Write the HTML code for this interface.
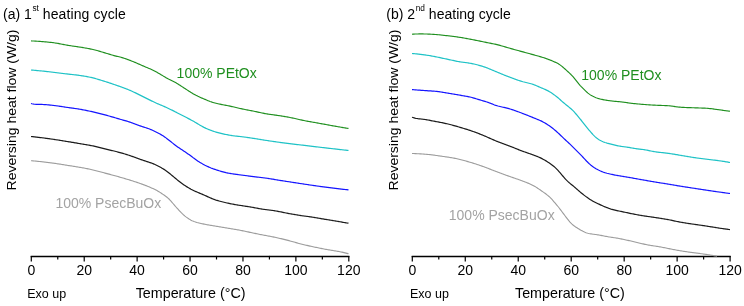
<!DOCTYPE html>
<html><head><meta charset="utf-8"><style>
html,body{margin:0;padding:0;background:#fff;}
body{width:744px;height:306px;overflow:hidden;}
svg{display:block;will-change:transform;}
text{font-family:"Liberation Sans",sans-serif;}
.t{font-size:14px;fill:#000;}
</style></head><body>
<svg width="744" height="306" viewBox="0 0 744 306">
<rect width="744" height="306" fill="#fff"/>
<text x="3" y="18.6" class="t">(a) 1<tspan font-size="8.3" dx="0.6" dy="-7.8">st</tspan><tspan dy="7.8" letter-spacing="0.1"> heating cycle</tspan></text>
<text x="386.3" y="18.6" class="t">(b) 2<tspan font-size="8.3" dx="0.6" dy="-7.8">nd</tspan><tspan dy="7.8" letter-spacing="0.02"> heating cycle</tspan></text>
<text transform="translate(15.8,110) rotate(-90) scale(1,0.93)" text-anchor="middle" class="t">Reversing heat flow (W/g)</text>
<text transform="translate(397.7,110) rotate(-90) scale(1,0.93)" text-anchor="middle" class="t">Reversing heat flow (W/g)</text>
<text x="27.2" y="298.2" class="t" style="font-size:12.5px">Exo up</text>
<text x="410" y="298.4" class="t" style="font-size:12.5px">Exo up</text>
<text x="190.6" y="298.2" text-anchor="middle" class="t" style="font-size:14.3px">Temperature (°C)</text>
<text x="569.9" y="298.4" text-anchor="middle" class="t" style="font-size:14.3px">Temperature (°C)</text>
<text x="176.6" y="78.2" class="t" style="fill:#1f8f1f">100% PEtOx</text>
<text x="581.3" y="79.6" class="t" style="fill:#1f8f1f">100% PEtOx</text>
<text x="55.4" y="207.9" class="t" style="fill:#a3a3a3">100% PsecBuOx</text>
<text x="448.8" y="219.6" class="t" style="fill:#a3a3a3">100% PsecBuOx</text>
<path d="M30.7,256.5H349.4" stroke="#000" stroke-width="1.3" fill="none"/>
<path d="M31.30,255.9V261.5" stroke="#000" stroke-width="1.2"/>
<path d="M57.76,255.9V259.5" stroke="#000" stroke-width="1.2"/>
<path d="M84.22,255.9V261.5" stroke="#000" stroke-width="1.2"/>
<path d="M110.67,255.9V259.5" stroke="#000" stroke-width="1.2"/>
<path d="M137.13,255.9V261.5" stroke="#000" stroke-width="1.2"/>
<path d="M163.59,255.9V259.5" stroke="#000" stroke-width="1.2"/>
<path d="M190.05,255.9V261.5" stroke="#000" stroke-width="1.2"/>
<path d="M216.51,255.9V259.5" stroke="#000" stroke-width="1.2"/>
<path d="M242.97,255.9V261.5" stroke="#000" stroke-width="1.2"/>
<path d="M269.43,255.9V259.5" stroke="#000" stroke-width="1.2"/>
<path d="M295.88,255.9V261.5" stroke="#000" stroke-width="1.2"/>
<path d="M322.34,255.9V259.5" stroke="#000" stroke-width="1.2"/>
<path d="M348.80,255.9V261.5" stroke="#000" stroke-width="1.2"/>
<text x="31.30" y="275.3" text-anchor="middle" class="t">0</text>
<text x="84.22" y="275.3" text-anchor="middle" class="t">20</text>
<text x="137.13" y="275.3" text-anchor="middle" class="t">40</text>
<text x="190.05" y="275.3" text-anchor="middle" class="t">60</text>
<text x="242.97" y="275.3" text-anchor="middle" class="t">80</text>
<text x="295.88" y="275.3" text-anchor="middle" class="t">100</text>
<text x="348.80" y="275.3" text-anchor="middle" class="t">120</text>
<path d="M411.7,256.5H730.7" stroke="#000" stroke-width="1.3" fill="none"/>
<path d="M412.30,255.9V261.5" stroke="#000" stroke-width="1.2"/>
<path d="M438.78,255.9V259.5" stroke="#000" stroke-width="1.2"/>
<path d="M465.27,255.9V261.5" stroke="#000" stroke-width="1.2"/>
<path d="M491.75,255.9V259.5" stroke="#000" stroke-width="1.2"/>
<path d="M518.23,255.9V261.5" stroke="#000" stroke-width="1.2"/>
<path d="M544.72,255.9V259.5" stroke="#000" stroke-width="1.2"/>
<path d="M571.20,255.9V261.5" stroke="#000" stroke-width="1.2"/>
<path d="M597.68,255.9V259.5" stroke="#000" stroke-width="1.2"/>
<path d="M624.17,255.9V261.5" stroke="#000" stroke-width="1.2"/>
<path d="M650.65,255.9V259.5" stroke="#000" stroke-width="1.2"/>
<path d="M677.13,255.9V261.5" stroke="#000" stroke-width="1.2"/>
<path d="M703.62,255.9V259.5" stroke="#000" stroke-width="1.2"/>
<path d="M730.10,255.9V261.5" stroke="#000" stroke-width="1.2"/>
<text x="412.30" y="275.3" text-anchor="middle" class="t">0</text>
<text x="465.27" y="275.3" text-anchor="middle" class="t">20</text>
<text x="518.23" y="275.3" text-anchor="middle" class="t">40</text>
<text x="571.20" y="275.3" text-anchor="middle" class="t">60</text>
<text x="624.17" y="275.3" text-anchor="middle" class="t">80</text>
<text x="677.13" y="275.3" text-anchor="middle" class="t">100</text>
<text x="730.10" y="275.3" text-anchor="middle" class="t">120</text>
<path d="M31.0,40.90 L 32.0,40.95 33.0,41.00 34.0,41.05 35.0,41.10 36.0,41.16 37.0,41.22 38.0,41.29 39.0,41.35 40.0,41.42 41.0,41.50 42.0,41.57 43.0,41.65 44.0,41.74 45.0,41.82 46.0,41.91 47.0,42.01 48.0,42.11 49.0,42.21 50.0,42.32 51.0,42.43 52.0,42.55 53.0,42.67 54.0,42.80 55.0,42.95 56.0,43.10 57.0,43.26 58.0,43.44 59.0,43.62 60.0,43.82 61.0,44.01 62.0,44.21 63.0,44.41 64.0,44.60 65.0,44.79 66.0,44.98 67.0,45.15 68.0,45.32 69.0,45.48 70.0,45.64 71.0,45.80 72.0,45.95 73.0,46.09 74.0,46.24 75.0,46.39 76.0,46.53 77.0,46.68 78.0,46.82 79.0,46.97 80.0,47.12 81.0,47.28 82.0,47.44 83.0,47.60 84.0,47.77 85.0,47.95 86.0,48.12 87.0,48.31 88.0,48.49 89.0,48.68 90.0,48.88 91.0,49.09 92.0,49.30 93.0,49.53 94.0,49.76 95.0,50.01 96.0,50.26 97.0,50.53 98.0,50.81 99.0,51.10 100.0,51.39 101.0,51.68 102.0,51.98 103.0,52.28 104.0,52.58 105.0,52.88 106.0,53.19 107.0,53.49 108.0,53.80 109.0,54.11 110.0,54.42 111.0,54.73 112.0,55.02 113.0,55.31 114.0,55.58 115.0,55.84 116.0,56.08 117.0,56.32 118.0,56.56 119.0,56.80 120.0,57.05 121.0,57.31 122.0,57.59 123.0,57.90 124.0,58.22 125.0,58.56 126.0,58.91 127.0,59.28 128.0,59.65 129.0,60.02 130.0,60.41 131.0,60.79 132.0,61.19 133.0,61.59 134.0,61.99 135.0,62.40 136.0,62.82 137.0,63.24 138.0,63.67 139.0,64.10 140.0,64.53 141.0,64.97 142.0,65.41 143.0,65.86 144.0,66.30 145.0,66.74 146.0,67.17 147.0,67.59 148.0,68.00 149.0,68.41 150.0,68.83 151.0,69.26 152.0,69.71 153.0,70.19 154.0,70.69 155.0,71.22 156.0,71.77 157.0,72.33 158.0,72.91 159.0,73.49 160.0,74.08 161.0,74.67 162.0,75.27 163.0,75.88 164.0,76.49 165.0,77.10 166.0,77.69 167.0,78.27 168.0,78.83 169.0,79.35 170.0,79.84 171.0,80.32 172.0,80.79 173.0,81.26 174.0,81.75 175.0,82.26 176.0,82.82 177.0,83.40 178.0,84.01 179.0,84.65 180.0,85.30 181.0,85.95 182.0,86.61 183.0,87.27 184.0,87.92 185.0,88.58 186.0,89.23 187.0,89.89 188.0,90.54 189.0,91.18 190.0,91.82 191.0,92.43 192.0,93.04 193.0,93.63 194.0,94.20 195.0,94.76 196.0,95.30 197.0,95.81 198.0,96.31 199.0,96.78 200.0,97.24 201.0,97.68 202.0,98.12 203.0,98.55 204.0,98.97 205.0,99.40 206.0,99.83 207.0,100.25 208.0,100.66 209.0,101.06 210.0,101.44 211.0,101.79 212.0,102.13 213.0,102.43 214.0,102.72 215.0,103.00 216.0,103.26 217.0,103.50 218.0,103.74 219.0,103.97 220.0,104.18 221.0,104.39 222.0,104.58 223.0,104.77 224.0,104.95 225.0,105.13 226.0,105.31 227.0,105.50 228.0,105.70 229.0,105.90 230.0,106.12 231.0,106.34 232.0,106.57 233.0,106.80 234.0,107.04 235.0,107.28 236.0,107.52 237.0,107.76 238.0,107.99 239.0,108.22 240.0,108.45 241.0,108.67 242.0,108.88 243.0,109.09 244.0,109.29 245.0,109.50 246.0,109.69 247.0,109.89 248.0,110.09 249.0,110.28 250.0,110.47 251.0,110.67 252.0,110.87 253.0,111.06 254.0,111.27 255.0,111.47 256.0,111.68 257.0,111.89 258.0,112.11 259.0,112.33 260.0,112.54 261.0,112.76 262.0,112.97 263.0,113.18 264.0,113.38 265.0,113.57 266.0,113.76 267.0,113.93 268.0,114.10 269.0,114.25 270.0,114.40 271.0,114.54 272.0,114.67 273.0,114.80 274.0,114.93 275.0,115.06 276.0,115.19 277.0,115.32 278.0,115.46 279.0,115.60 280.0,115.75 281.0,115.90 282.0,116.06 283.0,116.23 284.0,116.40 285.0,116.57 286.0,116.74 287.0,116.93 288.0,117.11 289.0,117.30 290.0,117.49 291.0,117.69 292.0,117.89 293.0,118.09 294.0,118.31 295.0,118.53 296.0,118.76 297.0,118.99 298.0,119.23 299.0,119.47 300.0,119.70 301.0,119.93 302.0,120.14 303.0,120.35 304.0,120.55 305.0,120.75 306.0,120.94 307.0,121.13 308.0,121.31 309.0,121.49 310.0,121.67 311.0,121.85 312.0,122.03 313.0,122.20 314.0,122.38 315.0,122.55 316.0,122.73 317.0,122.91 318.0,123.09 319.0,123.27 320.0,123.45 321.0,123.63 322.0,123.82 323.0,124.00 324.0,124.18 325.0,124.37 326.0,124.55 327.0,124.74 328.0,124.92 329.0,125.10 330.0,125.28 331.0,125.47 332.0,125.64 333.0,125.82 334.0,126.00 335.0,126.18 336.0,126.35 337.0,126.53 338.0,126.70 339.0,126.88 340.0,127.05 341.0,127.22 342.0,127.40 343.0,127.57 344.0,127.74 345.0,127.91 346.0,128.07 347.0,128.22 348.0,128.37 348.5,128.50" stroke="#1f8f1f" stroke-width="1.15" fill="none" stroke-linejoin="round" stroke-linecap="butt"/>
<path d="M31.0,70.00 L 32.0,70.09 33.0,70.17 34.0,70.26 35.0,70.35 36.0,70.44 37.0,70.54 38.0,70.63 39.0,70.73 40.0,70.82 41.0,70.92 42.0,71.02 43.0,71.12 44.0,71.22 45.0,71.33 46.0,71.43 47.0,71.54 48.0,71.65 49.0,71.76 50.0,71.87 51.0,71.99 52.0,72.11 53.0,72.23 54.0,72.35 55.0,72.48 56.0,72.60 57.0,72.73 58.0,72.86 59.0,72.98 60.0,73.11 61.0,73.24 62.0,73.36 63.0,73.49 64.0,73.61 65.0,73.74 66.0,73.85 67.0,73.97 68.0,74.08 69.0,74.20 70.0,74.30 71.0,74.41 72.0,74.51 73.0,74.62 74.0,74.73 75.0,74.84 76.0,74.96 77.0,75.08 78.0,75.21 79.0,75.35 80.0,75.49 81.0,75.64 82.0,75.79 83.0,75.95 84.0,76.11 85.0,76.28 86.0,76.46 87.0,76.65 88.0,76.84 89.0,77.03 90.0,77.24 91.0,77.45 92.0,77.68 93.0,77.92 94.0,78.18 95.0,78.44 96.0,78.72 97.0,79.01 98.0,79.30 99.0,79.60 100.0,79.91 101.0,80.21 102.0,80.52 103.0,80.83 104.0,81.14 105.0,81.46 106.0,81.78 107.0,82.11 108.0,82.44 109.0,82.77 110.0,83.11 111.0,83.44 112.0,83.78 113.0,84.12 114.0,84.46 115.0,84.80 116.0,85.14 117.0,85.48 118.0,85.82 119.0,86.17 120.0,86.51 121.0,86.86 122.0,87.22 123.0,87.58 124.0,87.95 125.0,88.33 126.0,88.72 127.0,89.12 128.0,89.53 129.0,89.95 130.0,90.38 131.0,90.82 132.0,91.27 133.0,91.72 134.0,92.19 135.0,92.65 136.0,93.13 137.0,93.62 138.0,94.11 139.0,94.60 140.0,95.10 141.0,95.60 142.0,96.10 143.0,96.60 144.0,97.10 145.0,97.60 146.0,98.10 147.0,98.60 148.0,99.10 149.0,99.60 150.0,100.10 151.0,100.59 152.0,101.09 153.0,101.58 154.0,102.06 155.0,102.53 156.0,102.99 157.0,103.44 158.0,103.88 159.0,104.30 160.0,104.72 161.0,105.13 162.0,105.55 163.0,105.97 164.0,106.40 165.0,106.84 166.0,107.29 167.0,107.76 168.0,108.23 169.0,108.70 170.0,109.18 171.0,109.67 172.0,110.16 173.0,110.66 174.0,111.15 175.0,111.66 176.0,112.16 177.0,112.67 178.0,113.19 179.0,113.70 180.0,114.21 181.0,114.73 182.0,115.24 183.0,115.76 184.0,116.28 185.0,116.80 186.0,117.31 187.0,117.83 188.0,118.35 189.0,118.87 190.0,119.39 191.0,119.92 192.0,120.46 193.0,121.02 194.0,121.59 195.0,122.17 196.0,122.77 197.0,123.38 198.0,123.98 199.0,124.59 200.0,125.17 201.0,125.75 202.0,126.31 203.0,126.85 204.0,127.38 205.0,127.88 206.0,128.36 207.0,128.81 208.0,129.24 209.0,129.65 210.0,130.04 211.0,130.42 212.0,130.78 213.0,131.13 214.0,131.46 215.0,131.78 216.0,132.09 217.0,132.38 218.0,132.66 219.0,132.93 220.0,133.18 221.0,133.43 222.0,133.66 223.0,133.89 224.0,134.10 225.0,134.31 226.0,134.51 227.0,134.71 228.0,134.90 229.0,135.08 230.0,135.26 231.0,135.43 232.0,135.58 233.0,135.73 234.0,135.86 235.0,135.99 236.0,136.10 237.0,136.20 238.0,136.30 239.0,136.40 240.0,136.51 241.0,136.63 242.0,136.75 243.0,136.87 244.0,137.00 245.0,137.14 246.0,137.27 247.0,137.41 248.0,137.55 249.0,137.70 250.0,137.84 251.0,137.99 252.0,138.14 253.0,138.29 254.0,138.44 255.0,138.60 256.0,138.75 257.0,138.92 258.0,139.08 259.0,139.24 260.0,139.41 261.0,139.58 262.0,139.74 263.0,139.90 264.0,140.07 265.0,140.22 266.0,140.38 267.0,140.53 268.0,140.69 269.0,140.84 270.0,140.99 271.0,141.13 272.0,141.28 273.0,141.42 274.0,141.57 275.0,141.71 276.0,141.85 277.0,141.99 278.0,142.13 279.0,142.27 280.0,142.41 281.0,142.54 282.0,142.68 283.0,142.81 284.0,142.94 285.0,143.08 286.0,143.21 287.0,143.33 288.0,143.46 289.0,143.59 290.0,143.71 291.0,143.84 292.0,143.96 293.0,144.08 294.0,144.20 295.0,144.32 296.0,144.43 297.0,144.55 298.0,144.66 299.0,144.77 300.0,144.88 301.0,145.00 302.0,145.11 303.0,145.22 304.0,145.34 305.0,145.46 306.0,145.57 307.0,145.69 308.0,145.81 309.0,145.94 310.0,146.06 311.0,146.18 312.0,146.30 313.0,146.43 314.0,146.55 315.0,146.67 316.0,146.79 317.0,146.90 318.0,147.02 319.0,147.14 320.0,147.25 321.0,147.37 322.0,147.48 323.0,147.60 324.0,147.71 325.0,147.82 326.0,147.94 327.0,148.05 328.0,148.16 329.0,148.28 330.0,148.39 331.0,148.51 332.0,148.62 333.0,148.73 334.0,148.85 335.0,148.96 336.0,149.08 337.0,149.19 338.0,149.30 339.0,149.42 340.0,149.53 341.0,149.65 342.0,149.76 343.0,149.87 344.0,149.99 345.0,150.10 346.0,150.21 347.0,150.31 348.0,150.41 348.5,150.50" stroke="#1ec2c6" stroke-width="1.20" fill="none" stroke-linejoin="round" stroke-linecap="butt"/>
<path d="M31.0,103.50 L 32.0,103.77 33.0,103.99 34.0,104.15 35.0,104.25 36.0,104.30 37.0,104.34 38.0,104.36 39.0,104.38 40.0,104.40 41.0,104.43 42.0,104.45 43.0,104.49 44.0,104.53 45.0,104.59 46.0,104.66 47.0,104.74 48.0,104.83 49.0,104.93 50.0,105.03 51.0,105.14 52.0,105.26 53.0,105.37 54.0,105.49 55.0,105.62 56.0,105.74 57.0,105.88 58.0,106.02 59.0,106.16 60.0,106.31 61.0,106.46 62.0,106.61 63.0,106.76 64.0,106.92 65.0,107.07 66.0,107.22 67.0,107.37 68.0,107.51 69.0,107.65 70.0,107.79 71.0,107.93 72.0,108.07 73.0,108.21 74.0,108.35 75.0,108.49 76.0,108.63 77.0,108.78 78.0,108.94 79.0,109.10 80.0,109.26 81.0,109.43 82.0,109.61 83.0,109.80 84.0,109.99 85.0,110.19 86.0,110.39 87.0,110.60 88.0,110.81 89.0,111.02 90.0,111.24 91.0,111.46 92.0,111.69 93.0,111.91 94.0,112.14 95.0,112.38 96.0,112.61 97.0,112.85 98.0,113.10 99.0,113.34 100.0,113.59 101.0,113.85 102.0,114.11 103.0,114.37 104.0,114.63 105.0,114.89 106.0,115.16 107.0,115.43 108.0,115.71 109.0,115.98 110.0,116.26 111.0,116.55 112.0,116.84 113.0,117.13 114.0,117.43 115.0,117.73 116.0,118.03 117.0,118.32 118.0,118.62 119.0,118.92 120.0,119.21 121.0,119.51 122.0,119.79 123.0,120.08 124.0,120.36 125.0,120.64 126.0,120.92 127.0,121.20 128.0,121.50 129.0,121.81 130.0,122.13 131.0,122.47 132.0,122.82 133.0,123.19 134.0,123.57 135.0,123.96 136.0,124.35 137.0,124.74 138.0,125.12 139.0,125.49 140.0,125.84 141.0,126.18 142.0,126.51 143.0,126.83 144.0,127.14 145.0,127.46 146.0,127.78 147.0,128.11 148.0,128.45 149.0,128.81 150.0,129.20 151.0,129.62 152.0,130.05 153.0,130.51 154.0,130.97 155.0,131.46 156.0,131.95 157.0,132.45 158.0,132.97 159.0,133.51 160.0,134.05 161.0,134.62 162.0,135.21 163.0,135.82 164.0,136.47 165.0,137.16 166.0,137.89 167.0,138.65 168.0,139.43 169.0,140.23 170.0,141.03 171.0,141.83 172.0,142.62 173.0,143.40 174.0,144.18 175.0,144.95 176.0,145.70 177.0,146.44 178.0,147.16 179.0,147.85 180.0,148.53 181.0,149.20 182.0,149.86 183.0,150.52 184.0,151.18 185.0,151.84 186.0,152.51 187.0,153.20 188.0,153.89 189.0,154.61 190.0,155.35 191.0,156.10 192.0,156.85 193.0,157.61 194.0,158.35 195.0,159.08 196.0,159.79 197.0,160.47 198.0,161.13 199.0,161.78 200.0,162.41 201.0,163.01 202.0,163.60 203.0,164.16 204.0,164.70 205.0,165.22 206.0,165.71 207.0,166.19 208.0,166.65 209.0,167.10 210.0,167.52 211.0,167.94 212.0,168.33 213.0,168.71 214.0,169.07 215.0,169.43 216.0,169.77 217.0,170.10 218.0,170.42 219.0,170.74 220.0,171.04 221.0,171.34 222.0,171.62 223.0,171.90 224.0,172.16 225.0,172.40 226.0,172.64 227.0,172.85 228.0,173.06 229.0,173.25 230.0,173.43 231.0,173.59 232.0,173.75 233.0,173.90 234.0,174.05 235.0,174.19 236.0,174.32 237.0,174.46 238.0,174.59 239.0,174.72 240.0,174.85 241.0,174.99 242.0,175.12 243.0,175.26 244.0,175.39 245.0,175.52 246.0,175.65 247.0,175.78 248.0,175.91 249.0,176.04 250.0,176.17 251.0,176.30 252.0,176.42 253.0,176.55 254.0,176.67 255.0,176.80 256.0,176.92 257.0,177.04 258.0,177.16 259.0,177.27 260.0,177.39 261.0,177.51 262.0,177.63 263.0,177.75 264.0,177.87 265.0,178.00 266.0,178.13 267.0,178.27 268.0,178.41 269.0,178.56 270.0,178.72 271.0,178.88 272.0,179.04 273.0,179.21 274.0,179.38 275.0,179.56 276.0,179.73 277.0,179.90 278.0,180.07 279.0,180.23 280.0,180.39 281.0,180.55 282.0,180.71 283.0,180.87 284.0,181.02 285.0,181.17 286.0,181.33 287.0,181.48 288.0,181.63 289.0,181.78 290.0,181.93 291.0,182.08 292.0,182.23 293.0,182.39 294.0,182.54 295.0,182.69 296.0,182.85 297.0,183.00 298.0,183.16 299.0,183.31 300.0,183.47 301.0,183.62 302.0,183.78 303.0,183.93 304.0,184.08 305.0,184.23 306.0,184.38 307.0,184.53 308.0,184.68 309.0,184.83 310.0,184.98 311.0,185.13 312.0,185.27 313.0,185.42 314.0,185.56 315.0,185.71 316.0,185.85 317.0,185.99 318.0,186.13 319.0,186.27 320.0,186.41 321.0,186.54 322.0,186.68 323.0,186.81 324.0,186.94 325.0,187.07 326.0,187.20 327.0,187.33 328.0,187.46 329.0,187.59 330.0,187.71 331.0,187.84 332.0,187.96 333.0,188.09 334.0,188.21 335.0,188.33 336.0,188.45 337.0,188.57 338.0,188.69 339.0,188.81 340.0,188.93 341.0,189.05 342.0,189.16 343.0,189.28 344.0,189.39 345.0,189.51 346.0,189.61 347.0,189.72 348.0,189.81 348.5,189.90" stroke="#1414ff" stroke-width="1.20" fill="none" stroke-linejoin="round" stroke-linecap="butt"/>
<path d="M31.0,136.50 L 32.0,136.61 33.0,136.72 34.0,136.83 35.0,136.94 36.0,137.05 37.0,137.17 38.0,137.29 39.0,137.41 40.0,137.53 41.0,137.65 42.0,137.78 43.0,137.90 44.0,138.03 45.0,138.16 46.0,138.29 47.0,138.42 48.0,138.56 49.0,138.70 50.0,138.83 51.0,138.98 52.0,139.12 53.0,139.27 54.0,139.42 55.0,139.57 56.0,139.72 57.0,139.88 58.0,140.03 59.0,140.19 60.0,140.35 61.0,140.51 62.0,140.66 63.0,140.82 64.0,140.99 65.0,141.15 66.0,141.31 67.0,141.47 68.0,141.63 69.0,141.79 70.0,141.96 71.0,142.12 72.0,142.29 73.0,142.46 74.0,142.63 75.0,142.79 76.0,142.96 77.0,143.14 78.0,143.31 79.0,143.48 80.0,143.65 81.0,143.82 82.0,143.99 83.0,144.15 84.0,144.32 85.0,144.49 86.0,144.66 87.0,144.83 88.0,145.00 89.0,145.17 90.0,145.35 91.0,145.54 92.0,145.73 93.0,145.93 94.0,146.14 95.0,146.36 96.0,146.58 97.0,146.82 98.0,147.06 99.0,147.30 100.0,147.55 101.0,147.81 102.0,148.07 103.0,148.33 104.0,148.58 105.0,148.84 106.0,149.09 107.0,149.35 108.0,149.59 109.0,149.84 110.0,150.07 111.0,150.31 112.0,150.55 113.0,150.79 114.0,151.03 115.0,151.28 116.0,151.53 117.0,151.79 118.0,152.05 119.0,152.32 120.0,152.60 121.0,152.88 122.0,153.16 123.0,153.45 124.0,153.74 125.0,154.04 126.0,154.34 127.0,154.65 128.0,154.97 129.0,155.29 130.0,155.62 131.0,155.96 132.0,156.31 133.0,156.67 134.0,157.04 135.0,157.41 136.0,157.79 137.0,158.15 138.0,158.52 139.0,158.87 140.0,159.22 141.0,159.57 142.0,159.91 143.0,160.25 144.0,160.59 145.0,160.92 146.0,161.26 147.0,161.59 148.0,161.92 149.0,162.25 150.0,162.59 151.0,162.93 152.0,163.29 153.0,163.67 154.0,164.07 155.0,164.50 156.0,164.96 157.0,165.44 158.0,165.95 159.0,166.47 160.0,167.01 161.0,167.57 162.0,168.15 163.0,168.74 164.0,169.37 165.0,170.02 166.0,170.70 167.0,171.42 168.0,172.18 169.0,172.97 170.0,173.79 171.0,174.63 172.0,175.48 173.0,176.32 174.0,177.16 175.0,177.99 176.0,178.81 177.0,179.63 178.0,180.44 179.0,181.24 180.0,182.02 181.0,182.77 182.0,183.50 183.0,184.21 184.0,184.91 185.0,185.58 186.0,186.24 187.0,186.87 188.0,187.49 189.0,188.08 190.0,188.64 191.0,189.19 192.0,189.71 193.0,190.21 194.0,190.70 195.0,191.17 196.0,191.63 197.0,192.07 198.0,192.50 199.0,192.92 200.0,193.34 201.0,193.75 202.0,194.17 203.0,194.59 204.0,195.02 205.0,195.47 206.0,195.92 207.0,196.38 208.0,196.84 209.0,197.29 210.0,197.74 211.0,198.17 212.0,198.59 213.0,198.99 214.0,199.37 215.0,199.73 216.0,200.07 217.0,200.38 218.0,200.68 219.0,200.97 220.0,201.25 221.0,201.52 222.0,201.78 223.0,202.03 224.0,202.28 225.0,202.52 226.0,202.75 227.0,202.97 228.0,203.19 229.0,203.40 230.0,203.61 231.0,203.81 232.0,204.01 233.0,204.20 234.0,204.38 235.0,204.56 236.0,204.73 237.0,204.90 238.0,205.06 239.0,205.22 240.0,205.38 241.0,205.53 242.0,205.68 243.0,205.83 244.0,205.98 245.0,206.13 246.0,206.29 247.0,206.44 248.0,206.60 249.0,206.75 250.0,206.92 251.0,207.09 252.0,207.26 253.0,207.44 254.0,207.62 255.0,207.81 256.0,208.00 257.0,208.20 258.0,208.39 259.0,208.57 260.0,208.75 261.0,208.92 262.0,209.08 263.0,209.22 264.0,209.36 265.0,209.50 266.0,209.62 267.0,209.75 268.0,209.87 269.0,209.99 270.0,210.12 271.0,210.25 272.0,210.38 273.0,210.52 274.0,210.66 275.0,210.82 276.0,210.98 277.0,211.16 278.0,211.35 279.0,211.54 280.0,211.74 281.0,211.95 282.0,212.16 283.0,212.37 284.0,212.58 285.0,212.78 286.0,212.99 287.0,213.18 288.0,213.37 289.0,213.56 290.0,213.74 291.0,213.92 292.0,214.10 293.0,214.27 294.0,214.44 295.0,214.61 296.0,214.78 297.0,214.95 298.0,215.11 299.0,215.27 300.0,215.43 301.0,215.58 302.0,215.72 303.0,215.87 304.0,216.01 305.0,216.14 306.0,216.27 307.0,216.40 308.0,216.53 309.0,216.67 310.0,216.80 311.0,216.94 312.0,217.08 313.0,217.23 314.0,217.38 315.0,217.55 316.0,217.72 317.0,217.90 318.0,218.08 319.0,218.27 320.0,218.45 321.0,218.63 322.0,218.80 323.0,218.96 324.0,219.13 325.0,219.29 326.0,219.45 327.0,219.61 328.0,219.77 329.0,219.92 330.0,220.08 331.0,220.24 332.0,220.41 333.0,220.57 334.0,220.74 335.0,220.91 336.0,221.08 337.0,221.25 338.0,221.42 339.0,221.59 340.0,221.77 341.0,221.95 342.0,222.12 343.0,222.30 344.0,222.48 345.0,222.66 346.0,222.83 347.0,223.00 348.0,223.15 348.5,223.30" stroke="#1a1a1a" stroke-width="1.20" fill="none" stroke-linejoin="round" stroke-linecap="butt"/>
<path d="M31.0,160.70 L 32.0,160.79 33.0,160.87 34.0,160.96 35.0,161.05 36.0,161.15 37.0,161.24 38.0,161.34 39.0,161.44 40.0,161.55 41.0,161.65 42.0,161.76 43.0,161.87 44.0,161.98 45.0,162.10 46.0,162.21 47.0,162.33 48.0,162.45 49.0,162.58 50.0,162.71 51.0,162.84 52.0,162.97 53.0,163.11 54.0,163.25 55.0,163.40 56.0,163.55 57.0,163.70 58.0,163.85 59.0,164.00 60.0,164.16 61.0,164.31 62.0,164.47 63.0,164.63 64.0,164.79 65.0,164.95 66.0,165.11 67.0,165.27 68.0,165.43 69.0,165.59 70.0,165.74 71.0,165.90 72.0,166.06 73.0,166.22 74.0,166.38 75.0,166.54 76.0,166.70 77.0,166.86 78.0,167.03 79.0,167.20 80.0,167.37 81.0,167.54 82.0,167.71 83.0,167.89 84.0,168.07 85.0,168.26 86.0,168.45 87.0,168.64 88.0,168.84 89.0,169.05 90.0,169.26 91.0,169.49 92.0,169.72 93.0,169.97 94.0,170.23 95.0,170.49 96.0,170.76 97.0,171.03 98.0,171.29 99.0,171.55 100.0,171.81 101.0,172.07 102.0,172.33 103.0,172.58 104.0,172.84 105.0,173.10 106.0,173.35 107.0,173.61 108.0,173.88 109.0,174.14 110.0,174.40 111.0,174.67 112.0,174.94 113.0,175.21 114.0,175.48 115.0,175.76 116.0,176.03 117.0,176.31 118.0,176.59 119.0,176.88 120.0,177.16 121.0,177.45 122.0,177.73 123.0,178.02 124.0,178.32 125.0,178.61 126.0,178.91 127.0,179.21 128.0,179.51 129.0,179.82 130.0,180.13 131.0,180.44 132.0,180.76 133.0,181.07 134.0,181.40 135.0,181.72 136.0,182.05 137.0,182.38 138.0,182.72 139.0,183.07 140.0,183.42 141.0,183.77 142.0,184.13 143.0,184.49 144.0,184.86 145.0,185.24 146.0,185.63 147.0,186.02 148.0,186.42 149.0,186.83 150.0,187.25 151.0,187.68 152.0,188.13 153.0,188.58 154.0,189.05 155.0,189.54 156.0,190.06 157.0,190.60 158.0,191.16 159.0,191.76 160.0,192.39 161.0,193.04 162.0,193.70 163.0,194.38 164.0,195.07 165.0,195.76 166.0,196.48 167.0,197.24 168.0,198.07 169.0,199.00 170.0,200.02 171.0,201.14 172.0,202.32 173.0,203.51 174.0,204.70 175.0,205.86 176.0,206.99 177.0,208.10 178.0,209.20 179.0,210.31 180.0,211.40 181.0,212.47 182.0,213.47 183.0,214.41 184.0,215.28 185.0,216.10 186.0,216.87 187.0,217.60 188.0,218.30 189.0,218.96 190.0,219.58 191.0,220.15 192.0,220.65 193.0,221.09 194.0,221.48 195.0,221.83 196.0,222.15 197.0,222.45 198.0,222.72 199.0,222.98 200.0,223.23 201.0,223.46 202.0,223.68 203.0,223.90 204.0,224.10 205.0,224.30 206.0,224.49 207.0,224.68 208.0,224.86 209.0,225.04 210.0,225.22 211.0,225.39 212.0,225.55 213.0,225.72 214.0,225.88 215.0,226.05 216.0,226.21 217.0,226.37 218.0,226.54 219.0,226.70 220.0,226.87 221.0,227.03 222.0,227.20 223.0,227.36 224.0,227.53 225.0,227.69 226.0,227.85 227.0,228.02 228.0,228.18 229.0,228.34 230.0,228.51 231.0,228.67 232.0,228.84 233.0,229.01 234.0,229.18 235.0,229.35 236.0,229.53 237.0,229.70 238.0,229.88 239.0,230.07 240.0,230.26 241.0,230.45 242.0,230.65 243.0,230.85 244.0,231.06 245.0,231.26 246.0,231.48 247.0,231.69 248.0,231.90 249.0,232.12 250.0,232.34 251.0,232.55 252.0,232.77 253.0,232.98 254.0,233.20 255.0,233.41 256.0,233.62 257.0,233.83 258.0,234.03 259.0,234.23 260.0,234.43 261.0,234.62 262.0,234.81 263.0,235.00 264.0,235.19 265.0,235.37 266.0,235.56 267.0,235.74 268.0,235.93 269.0,236.12 270.0,236.31 271.0,236.50 272.0,236.69 273.0,236.89 274.0,237.10 275.0,237.31 276.0,237.52 277.0,237.74 278.0,237.96 279.0,238.19 280.0,238.42 281.0,238.65 282.0,238.89 283.0,239.13 284.0,239.38 285.0,239.62 286.0,239.87 287.0,240.13 288.0,240.38 289.0,240.65 290.0,240.91 291.0,241.19 292.0,241.47 293.0,241.75 294.0,242.04 295.0,242.32 296.0,242.61 297.0,242.89 298.0,243.17 299.0,243.44 300.0,243.70 301.0,243.96 302.0,244.22 303.0,244.46 304.0,244.70 305.0,244.94 306.0,245.18 307.0,245.41 308.0,245.64 309.0,245.86 310.0,246.09 311.0,246.31 312.0,246.52 313.0,246.74 314.0,246.95 315.0,247.17 316.0,247.38 317.0,247.58 318.0,247.79 319.0,247.99 320.0,248.20 321.0,248.40 322.0,248.59 323.0,248.79 324.0,248.98 325.0,249.17 326.0,249.36 327.0,249.54 328.0,249.72 329.0,249.89 330.0,250.05 331.0,250.22 332.0,250.38 333.0,250.53 334.0,250.69 335.0,250.85 336.0,251.02 337.0,251.18 338.0,251.36 339.0,251.54 340.0,251.74 341.0,251.94 342.0,252.16 343.0,252.39 344.0,252.63 345.0,252.87 346.0,253.12 347.0,253.36 348.0,253.59 348.5,253.80" stroke="#9c9c9c" stroke-width="1.10" fill="none" stroke-linejoin="round" stroke-linecap="butt"/>
<path d="M412.0,34.20 L 413.0,34.15 414.0,34.10 415.0,34.05 416.0,34.01 417.0,33.98 418.0,33.95 419.0,33.93 420.0,33.92 421.0,33.91 422.0,33.92 423.0,33.93 424.0,33.95 425.0,33.97 426.0,34.00 427.0,34.04 428.0,34.08 429.0,34.13 430.0,34.18 431.0,34.23 432.0,34.29 433.0,34.34 434.0,34.40 435.0,34.47 436.0,34.54 437.0,34.62 438.0,34.70 439.0,34.80 440.0,34.90 441.0,35.00 442.0,35.11 443.0,35.22 444.0,35.33 445.0,35.45 446.0,35.56 447.0,35.68 448.0,35.79 449.0,35.91 450.0,36.03 451.0,36.15 452.0,36.27 453.0,36.39 454.0,36.52 455.0,36.65 456.0,36.79 457.0,36.93 458.0,37.07 459.0,37.21 460.0,37.36 461.0,37.52 462.0,37.68 463.0,37.85 464.0,38.02 465.0,38.20 466.0,38.38 467.0,38.57 468.0,38.75 469.0,38.95 470.0,39.14 471.0,39.33 472.0,39.53 473.0,39.72 474.0,39.92 475.0,40.12 476.0,40.32 477.0,40.52 478.0,40.73 479.0,40.93 480.0,41.14 481.0,41.35 482.0,41.56 483.0,41.77 484.0,41.98 485.0,42.18 486.0,42.39 487.0,42.59 488.0,42.79 489.0,42.99 490.0,43.18 491.0,43.37 492.0,43.57 493.0,43.76 494.0,43.97 495.0,44.18 496.0,44.40 497.0,44.64 498.0,44.88 499.0,45.15 500.0,45.42 501.0,45.70 502.0,45.99 503.0,46.28 504.0,46.57 505.0,46.87 506.0,47.17 507.0,47.46 508.0,47.75 509.0,48.04 510.0,48.32 511.0,48.60 512.0,48.87 513.0,49.15 514.0,49.43 515.0,49.70 516.0,49.97 517.0,50.25 518.0,50.52 519.0,50.80 520.0,51.07 521.0,51.34 522.0,51.62 523.0,51.89 524.0,52.16 525.0,52.44 526.0,52.71 527.0,52.98 528.0,53.25 529.0,53.52 530.0,53.80 531.0,54.07 532.0,54.35 533.0,54.62 534.0,54.91 535.0,55.19 536.0,55.47 537.0,55.75 538.0,56.04 539.0,56.32 540.0,56.61 541.0,56.90 542.0,57.20 543.0,57.51 544.0,57.82 545.0,58.15 546.0,58.49 547.0,58.84 548.0,59.21 549.0,59.59 550.0,59.99 551.0,60.40 552.0,60.82 553.0,61.25 554.0,61.68 555.0,62.13 556.0,62.59 557.0,63.08 558.0,63.61 559.0,64.19 560.0,64.86 561.0,65.59 562.0,66.40 563.0,67.26 564.0,68.14 565.0,69.04 566.0,69.94 567.0,70.83 568.0,71.72 569.0,72.62 570.0,73.55 571.0,74.53 572.0,75.57 573.0,76.69 574.0,77.87 575.0,79.10 576.0,80.36 577.0,81.64 578.0,82.90 579.0,84.13 580.0,85.29 581.0,86.39 582.0,87.43 583.0,88.43 584.0,89.41 585.0,90.38 586.0,91.33 587.0,92.25 588.0,93.11 589.0,93.90 590.0,94.61 591.0,95.25 592.0,95.82 593.0,96.35 594.0,96.84 595.0,97.28 596.0,97.68 597.0,98.04 598.0,98.37 599.0,98.67 600.0,98.94 601.0,99.19 602.0,99.42 603.0,99.63 604.0,99.83 605.0,100.01 606.0,100.18 607.0,100.34 608.0,100.50 609.0,100.64 610.0,100.77 611.0,100.90 612.0,101.01 613.0,101.12 614.0,101.23 615.0,101.32 616.0,101.41 617.0,101.49 618.0,101.57 619.0,101.65 620.0,101.74 621.0,101.84 622.0,101.95 623.0,102.07 624.0,102.21 625.0,102.35 626.0,102.50 627.0,102.66 628.0,102.81 629.0,102.95 630.0,103.08 631.0,103.21 632.0,103.33 633.0,103.45 634.0,103.56 635.0,103.66 636.0,103.77 637.0,103.87 638.0,103.96 639.0,104.05 640.0,104.14 641.0,104.23 642.0,104.31 643.0,104.40 644.0,104.47 645.0,104.55 646.0,104.63 647.0,104.70 648.0,104.77 649.0,104.84 650.0,104.91 651.0,104.97 652.0,105.03 653.0,105.09 654.0,105.14 655.0,105.19 656.0,105.24 657.0,105.28 658.0,105.32 659.0,105.35 660.0,105.39 661.0,105.42 662.0,105.45 663.0,105.48 664.0,105.52 665.0,105.56 666.0,105.60 667.0,105.66 668.0,105.72 669.0,105.80 670.0,105.89 671.0,106.00 672.0,106.13 673.0,106.27 674.0,106.41 675.0,106.56 676.0,106.71 677.0,106.85 678.0,106.97 679.0,107.09 680.0,107.19 681.0,107.27 682.0,107.33 683.0,107.39 684.0,107.44 685.0,107.48 686.0,107.52 687.0,107.56 688.0,107.59 689.0,107.63 690.0,107.66 691.0,107.69 692.0,107.72 693.0,107.76 694.0,107.79 695.0,107.83 696.0,107.86 697.0,107.90 698.0,107.93 699.0,107.96 700.0,107.99 701.0,108.03 702.0,108.06 703.0,108.10 704.0,108.14 705.0,108.19 706.0,108.24 707.0,108.30 708.0,108.37 709.0,108.46 710.0,108.56 711.0,108.68 712.0,108.80 713.0,108.94 714.0,109.08 715.0,109.22 716.0,109.36 717.0,109.50 718.0,109.64 719.0,109.77 720.0,109.91 721.0,110.04 722.0,110.18 723.0,110.31 724.0,110.45 725.0,110.59 726.0,110.73 727.0,110.87 728.0,111.01 729.0,111.16 730.0,111.30" stroke="#1f8f1f" stroke-width="1.15" fill="none" stroke-linejoin="round" stroke-linecap="butt"/>
<path d="M412.0,53.50 L 413.0,53.59 414.0,53.68 415.0,53.77 416.0,53.87 417.0,53.97 418.0,54.07 419.0,54.19 420.0,54.30 421.0,54.42 422.0,54.54 423.0,54.67 424.0,54.80 425.0,54.94 426.0,55.08 427.0,55.22 428.0,55.37 429.0,55.53 430.0,55.69 431.0,55.86 432.0,56.04 433.0,56.23 434.0,56.42 435.0,56.62 436.0,56.82 437.0,57.03 438.0,57.24 439.0,57.45 440.0,57.67 441.0,57.88 442.0,58.10 443.0,58.31 444.0,58.53 445.0,58.74 446.0,58.95 447.0,59.16 448.0,59.37 449.0,59.58 450.0,59.80 451.0,60.01 452.0,60.23 453.0,60.45 454.0,60.67 455.0,60.88 456.0,61.09 457.0,61.29 458.0,61.48 459.0,61.66 460.0,61.83 461.0,61.99 462.0,62.13 463.0,62.27 464.0,62.39 465.0,62.52 466.0,62.64 467.0,62.77 468.0,62.91 469.0,63.06 470.0,63.23 471.0,63.40 472.0,63.60 473.0,63.80 474.0,64.03 475.0,64.26 476.0,64.50 477.0,64.76 478.0,65.02 479.0,65.30 480.0,65.58 481.0,65.88 482.0,66.18 483.0,66.49 484.0,66.82 485.0,67.17 486.0,67.53 487.0,67.91 488.0,68.30 489.0,68.71 490.0,69.13 491.0,69.55 492.0,69.97 493.0,70.40 494.0,70.82 495.0,71.24 496.0,71.65 497.0,72.07 498.0,72.48 499.0,72.89 500.0,73.30 501.0,73.71 502.0,74.12 503.0,74.53 504.0,74.94 505.0,75.35 506.0,75.75 507.0,76.14 508.0,76.53 509.0,76.92 510.0,77.30 511.0,77.68 512.0,78.05 513.0,78.42 514.0,78.79 515.0,79.16 516.0,79.52 517.0,79.87 518.0,80.22 519.0,80.55 520.0,80.88 521.0,81.19 522.0,81.48 523.0,81.77 524.0,82.03 525.0,82.28 526.0,82.52 527.0,82.75 528.0,82.98 529.0,83.22 530.0,83.47 531.0,83.74 532.0,84.04 533.0,84.36 534.0,84.72 535.0,85.11 536.0,85.52 537.0,85.96 538.0,86.40 539.0,86.84 540.0,87.28 541.0,87.71 542.0,88.13 543.0,88.55 544.0,88.97 545.0,89.41 546.0,89.86 547.0,90.34 548.0,90.85 549.0,91.40 550.0,91.98 551.0,92.60 552.0,93.25 553.0,93.93 554.0,94.64 555.0,95.38 556.0,96.15 557.0,96.96 558.0,97.80 559.0,98.67 560.0,99.57 561.0,100.47 562.0,101.36 563.0,102.23 564.0,103.07 565.0,103.90 566.0,104.71 567.0,105.51 568.0,106.32 569.0,107.13 570.0,107.95 571.0,108.80 572.0,109.69 573.0,110.66 574.0,111.71 575.0,112.83 576.0,114.00 577.0,115.20 578.0,116.39 579.0,117.58 580.0,118.77 581.0,120.00 582.0,121.26 583.0,122.56 584.0,123.88 585.0,125.19 586.0,126.47 587.0,127.70 588.0,128.90 589.0,130.07 590.0,131.23 591.0,132.38 592.0,133.52 593.0,134.62 594.0,135.66 595.0,136.62 596.0,137.48 597.0,138.27 598.0,138.99 599.0,139.64 600.0,140.24 601.0,140.79 602.0,141.28 603.0,141.72 604.0,142.11 605.0,142.47 606.0,142.79 607.0,143.09 608.0,143.36 609.0,143.63 610.0,143.89 611.0,144.15 612.0,144.41 613.0,144.67 614.0,144.92 615.0,145.16 616.0,145.40 617.0,145.62 618.0,145.83 619.0,146.02 620.0,146.19 621.0,146.34 622.0,146.48 623.0,146.62 624.0,146.74 625.0,146.87 626.0,147.01 627.0,147.15 628.0,147.30 629.0,147.46 630.0,147.64 631.0,147.82 632.0,148.00 633.0,148.18 634.0,148.36 635.0,148.53 636.0,148.69 637.0,148.83 638.0,148.96 639.0,149.08 640.0,149.18 641.0,149.29 642.0,149.40 643.0,149.52 644.0,149.65 645.0,149.80 646.0,149.98 647.0,150.17 648.0,150.37 649.0,150.59 650.0,150.81 651.0,151.02 652.0,151.23 653.0,151.43 654.0,151.61 655.0,151.77 656.0,151.92 657.0,152.05 658.0,152.18 659.0,152.29 660.0,152.40 661.0,152.51 662.0,152.62 663.0,152.72 664.0,152.83 665.0,152.94 666.0,153.05 667.0,153.17 668.0,153.30 669.0,153.44 670.0,153.58 671.0,153.73 672.0,153.88 673.0,154.04 674.0,154.20 675.0,154.37 676.0,154.54 677.0,154.71 678.0,154.88 679.0,155.05 680.0,155.22 681.0,155.38 682.0,155.55 683.0,155.72 684.0,155.89 685.0,156.07 686.0,156.24 687.0,156.42 688.0,156.59 689.0,156.76 690.0,156.93 691.0,157.09 692.0,157.25 693.0,157.41 694.0,157.56 695.0,157.71 696.0,157.85 697.0,157.99 698.0,158.12 699.0,158.26 700.0,158.39 701.0,158.51 702.0,158.64 703.0,158.76 704.0,158.89 705.0,159.01 706.0,159.14 707.0,159.26 708.0,159.38 709.0,159.50 710.0,159.62 711.0,159.74 712.0,159.86 713.0,159.98 714.0,160.09 715.0,160.21 716.0,160.33 717.0,160.46 718.0,160.58 719.0,160.72 720.0,160.85 721.0,161.00 722.0,161.14 723.0,161.30 724.0,161.46 725.0,161.62 726.0,161.79 727.0,161.96 728.0,162.14 729.0,162.32 730.0,162.50" stroke="#1ec2c6" stroke-width="1.20" fill="none" stroke-linejoin="round" stroke-linecap="butt"/>
<path d="M412.0,89.60 L 413.0,89.68 414.0,89.76 415.0,89.84 416.0,89.92 417.0,90.00 418.0,90.07 419.0,90.15 420.0,90.22 421.0,90.30 422.0,90.37 423.0,90.45 424.0,90.52 425.0,90.59 426.0,90.65 427.0,90.71 428.0,90.78 429.0,90.84 430.0,90.90 431.0,90.96 432.0,91.03 433.0,91.10 434.0,91.17 435.0,91.25 436.0,91.34 437.0,91.44 438.0,91.55 439.0,91.68 440.0,91.82 441.0,91.97 442.0,92.13 443.0,92.30 444.0,92.47 445.0,92.65 446.0,92.83 447.0,93.01 448.0,93.18 449.0,93.36 450.0,93.53 451.0,93.70 452.0,93.86 453.0,94.03 454.0,94.19 455.0,94.36 456.0,94.52 457.0,94.69 458.0,94.86 459.0,95.03 460.0,95.20 461.0,95.37 462.0,95.54 463.0,95.72 464.0,95.89 465.0,96.06 466.0,96.24 467.0,96.42 468.0,96.61 469.0,96.81 470.0,97.04 471.0,97.28 472.0,97.54 473.0,97.82 474.0,98.10 475.0,98.40 476.0,98.70 477.0,99.01 478.0,99.32 479.0,99.63 480.0,99.94 481.0,100.25 482.0,100.55 483.0,100.85 484.0,101.14 485.0,101.43 486.0,101.72 487.0,102.03 488.0,102.35 489.0,102.71 490.0,103.09 491.0,103.48 492.0,103.90 493.0,104.30 494.0,104.70 495.0,105.07 496.0,105.41 497.0,105.72 498.0,106.01 499.0,106.27 500.0,106.52 501.0,106.76 502.0,106.98 503.0,107.21 504.0,107.43 505.0,107.66 506.0,107.89 507.0,108.14 508.0,108.40 509.0,108.67 510.0,108.96 511.0,109.26 512.0,109.58 513.0,109.91 514.0,110.25 515.0,110.60 516.0,110.96 517.0,111.32 518.0,111.69 519.0,112.06 520.0,112.44 521.0,112.81 522.0,113.19 523.0,113.57 524.0,113.96 525.0,114.34 526.0,114.74 527.0,115.14 528.0,115.54 529.0,115.94 530.0,116.35 531.0,116.76 532.0,117.17 533.0,117.58 534.0,117.99 535.0,118.39 536.0,118.79 537.0,119.20 538.0,119.60 539.0,120.02 540.0,120.45 541.0,120.91 542.0,121.40 543.0,121.91 544.0,122.46 545.0,123.03 546.0,123.63 547.0,124.25 548.0,124.89 549.0,125.56 550.0,126.26 551.0,126.99 552.0,127.75 553.0,128.54 554.0,129.35 555.0,130.20 556.0,131.06 557.0,131.95 558.0,132.86 559.0,133.80 560.0,134.74 561.0,135.70 562.0,136.67 563.0,137.64 564.0,138.59 565.0,139.53 566.0,140.44 567.0,141.35 568.0,142.26 569.0,143.19 570.0,144.14 571.0,145.11 572.0,146.09 573.0,147.09 574.0,148.09 575.0,149.09 576.0,150.09 577.0,151.09 578.0,152.09 579.0,153.09 580.0,154.11 581.0,155.14 582.0,156.19 583.0,157.27 584.0,158.36 585.0,159.45 586.0,160.52 587.0,161.55 588.0,162.53 589.0,163.46 590.0,164.34 591.0,165.19 592.0,165.99 593.0,166.75 594.0,167.46 595.0,168.12 596.0,168.73 597.0,169.29 598.0,169.83 599.0,170.33 600.0,170.80 601.0,171.24 602.0,171.66 603.0,172.04 604.0,172.39 605.0,172.71 606.0,173.01 607.0,173.29 608.0,173.54 609.0,173.78 610.0,174.01 611.0,174.23 612.0,174.45 613.0,174.65 614.0,174.85 615.0,175.05 616.0,175.24 617.0,175.42 618.0,175.60 619.0,175.77 620.0,175.94 621.0,176.11 622.0,176.28 623.0,176.44 624.0,176.59 625.0,176.75 626.0,176.91 627.0,177.06 628.0,177.23 629.0,177.39 630.0,177.56 631.0,177.74 632.0,177.92 633.0,178.10 634.0,178.29 635.0,178.47 636.0,178.66 637.0,178.85 638.0,179.03 639.0,179.22 640.0,179.40 641.0,179.58 642.0,179.75 643.0,179.93 644.0,180.11 645.0,180.28 646.0,180.46 647.0,180.63 648.0,180.81 649.0,180.98 650.0,181.15 651.0,181.32 652.0,181.49 653.0,181.66 654.0,181.83 655.0,182.00 656.0,182.16 657.0,182.33 658.0,182.49 659.0,182.65 660.0,182.81 661.0,182.97 662.0,183.12 663.0,183.28 664.0,183.44 665.0,183.60 666.0,183.76 667.0,183.92 668.0,184.09 669.0,184.25 670.0,184.42 671.0,184.59 672.0,184.76 673.0,184.93 674.0,185.10 675.0,185.27 676.0,185.45 677.0,185.62 678.0,185.79 679.0,185.95 680.0,186.12 681.0,186.28 682.0,186.44 683.0,186.60 684.0,186.75 685.0,186.91 686.0,187.06 687.0,187.21 688.0,187.36 689.0,187.52 690.0,187.67 691.0,187.82 692.0,187.97 693.0,188.12 694.0,188.27 695.0,188.42 696.0,188.58 697.0,188.73 698.0,188.88 699.0,189.04 700.0,189.19 701.0,189.34 702.0,189.50 703.0,189.65 704.0,189.80 705.0,189.95 706.0,190.10 707.0,190.25 708.0,190.40 709.0,190.55 710.0,190.70 711.0,190.85 712.0,190.99 713.0,191.14 714.0,191.29 715.0,191.43 716.0,191.57 717.0,191.72 718.0,191.86 719.0,192.00 720.0,192.14 721.0,192.28 722.0,192.42 723.0,192.56 724.0,192.70 725.0,192.83 726.0,192.97 727.0,193.10 728.0,193.23 729.0,193.37 730.0,193.50" stroke="#1414ff" stroke-width="1.20" fill="none" stroke-linejoin="round" stroke-linecap="butt"/>
<path d="M412.0,117.20 L 413.0,117.51 414.0,117.80 415.0,118.07 416.0,118.30 417.0,118.50 418.0,118.67 419.0,118.80 420.0,118.91 421.0,119.02 422.0,119.13 423.0,119.24 424.0,119.37 425.0,119.51 426.0,119.67 427.0,119.84 428.0,120.02 429.0,120.20 430.0,120.40 431.0,120.59 432.0,120.79 433.0,120.98 434.0,121.18 435.0,121.37 436.0,121.56 437.0,121.74 438.0,121.93 439.0,122.12 440.0,122.31 441.0,122.51 442.0,122.70 443.0,122.90 444.0,123.11 445.0,123.32 446.0,123.54 447.0,123.77 448.0,124.00 449.0,124.25 450.0,124.50 451.0,124.76 452.0,125.02 453.0,125.30 454.0,125.58 455.0,125.86 456.0,126.15 457.0,126.44 458.0,126.73 459.0,127.02 460.0,127.31 461.0,127.61 462.0,127.90 463.0,128.20 464.0,128.50 465.0,128.81 466.0,129.12 467.0,129.43 468.0,129.75 469.0,130.08 470.0,130.41 471.0,130.75 472.0,131.10 473.0,131.45 474.0,131.81 475.0,132.17 476.0,132.54 477.0,132.92 478.0,133.30 479.0,133.68 480.0,134.07 481.0,134.47 482.0,134.87 483.0,135.27 484.0,135.69 485.0,136.11 486.0,136.54 487.0,136.98 488.0,137.43 489.0,137.88 490.0,138.33 491.0,138.78 492.0,139.23 493.0,139.67 494.0,140.10 495.0,140.53 496.0,140.94 497.0,141.34 498.0,141.74 499.0,142.12 500.0,142.50 501.0,142.87 502.0,143.24 503.0,143.61 504.0,143.97 505.0,144.34 506.0,144.71 507.0,145.08 508.0,145.45 509.0,145.83 510.0,146.22 511.0,146.61 512.0,147.01 513.0,147.41 514.0,147.81 515.0,148.22 516.0,148.62 517.0,149.03 518.0,149.43 519.0,149.82 520.0,150.21 521.0,150.60 522.0,150.97 523.0,151.34 524.0,151.70 525.0,152.06 526.0,152.41 527.0,152.75 528.0,153.10 529.0,153.45 530.0,153.80 531.0,154.15 532.0,154.50 533.0,154.85 534.0,155.20 535.0,155.57 536.0,155.94 537.0,156.34 538.0,156.75 539.0,157.19 540.0,157.66 541.0,158.14 542.0,158.65 543.0,159.18 544.0,159.73 545.0,160.30 546.0,160.89 547.0,161.51 548.0,162.14 549.0,162.81 550.0,163.49 551.0,164.21 552.0,164.96 553.0,165.73 554.0,166.55 555.0,167.42 556.0,168.35 557.0,169.35 558.0,170.42 559.0,171.55 560.0,172.72 561.0,173.90 562.0,175.08 563.0,176.26 564.0,177.43 565.0,178.56 566.0,179.65 567.0,180.67 568.0,181.63 569.0,182.52 570.0,183.36 571.0,184.17 572.0,184.98 573.0,185.79 574.0,186.63 575.0,187.49 576.0,188.37 577.0,189.26 578.0,190.15 579.0,191.03 580.0,191.89 581.0,192.72 582.0,193.54 583.0,194.33 584.0,195.11 585.0,195.88 586.0,196.63 587.0,197.35 588.0,198.06 589.0,198.74 590.0,199.39 591.0,200.01 592.0,200.61 593.0,201.17 594.0,201.71 595.0,202.23 596.0,202.73 597.0,203.22 598.0,203.70 599.0,204.16 600.0,204.63 601.0,205.08 602.0,205.54 603.0,205.99 604.0,206.43 605.0,206.86 606.0,207.27 607.0,207.67 608.0,208.05 609.0,208.41 610.0,208.74 611.0,209.06 612.0,209.35 613.0,209.62 614.0,209.88 615.0,210.13 616.0,210.37 617.0,210.59 618.0,210.82 619.0,211.03 620.0,211.24 621.0,211.45 622.0,211.66 623.0,211.86 624.0,212.07 625.0,212.28 626.0,212.49 627.0,212.70 628.0,212.91 629.0,213.12 630.0,213.33 631.0,213.54 632.0,213.74 633.0,213.94 634.0,214.14 635.0,214.34 636.0,214.53 637.0,214.72 638.0,214.90 639.0,215.08 640.0,215.26 641.0,215.42 642.0,215.59 643.0,215.75 644.0,215.90 645.0,216.05 646.0,216.20 647.0,216.35 648.0,216.49 649.0,216.63 650.0,216.77 651.0,216.92 652.0,217.06 653.0,217.20 654.0,217.35 655.0,217.50 656.0,217.65 657.0,217.81 658.0,217.96 659.0,218.11 660.0,218.27 661.0,218.42 662.0,218.58 663.0,218.74 664.0,218.90 665.0,219.07 666.0,219.24 667.0,219.41 668.0,219.59 669.0,219.78 670.0,219.98 671.0,220.18 672.0,220.39 673.0,220.61 674.0,220.83 675.0,221.05 676.0,221.26 677.0,221.48 678.0,221.69 679.0,221.89 680.0,222.08 681.0,222.27 682.0,222.44 683.0,222.61 684.0,222.78 685.0,222.94 686.0,223.09 687.0,223.24 688.0,223.39 689.0,223.54 690.0,223.69 691.0,223.83 692.0,223.98 693.0,224.12 694.0,224.27 695.0,224.42 696.0,224.56 697.0,224.71 698.0,224.85 699.0,224.99 700.0,225.14 701.0,225.28 702.0,225.42 703.0,225.57 704.0,225.71 705.0,225.86 706.0,226.01 707.0,226.16 708.0,226.31 709.0,226.47 710.0,226.63 711.0,226.79 712.0,226.95 713.0,227.12 714.0,227.28 715.0,227.45 716.0,227.61 717.0,227.77 718.0,227.93 719.0,228.08 720.0,228.23 721.0,228.38 722.0,228.53 723.0,228.67 724.0,228.81 725.0,228.94 726.0,229.08 727.0,229.21 728.0,229.34 729.0,229.47 730.0,229.60" stroke="#1a1a1a" stroke-width="1.20" fill="none" stroke-linejoin="round" stroke-linecap="butt"/>
<path d="M412.0,153.50 L 413.0,153.53 414.0,153.56 415.0,153.59 416.0,153.64 417.0,153.68 418.0,153.73 419.0,153.79 420.0,153.85 421.0,153.91 422.0,153.98 423.0,154.05 424.0,154.12 425.0,154.20 426.0,154.28 427.0,154.36 428.0,154.45 429.0,154.54 430.0,154.64 431.0,154.76 432.0,154.88 433.0,155.01 434.0,155.14 435.0,155.28 436.0,155.42 437.0,155.56 438.0,155.71 439.0,155.85 440.0,156.00 441.0,156.14 442.0,156.28 443.0,156.42 444.0,156.56 445.0,156.70 446.0,156.84 447.0,156.99 448.0,157.14 449.0,157.29 450.0,157.45 451.0,157.62 452.0,157.79 453.0,157.97 454.0,158.15 455.0,158.35 456.0,158.56 457.0,158.78 458.0,159.01 459.0,159.25 460.0,159.49 461.0,159.75 462.0,160.00 463.0,160.27 464.0,160.54 465.0,160.81 466.0,161.08 467.0,161.36 468.0,161.65 469.0,161.93 470.0,162.23 471.0,162.53 472.0,162.83 473.0,163.14 474.0,163.45 475.0,163.77 476.0,164.10 477.0,164.43 478.0,164.76 479.0,165.09 480.0,165.43 481.0,165.78 482.0,166.12 483.0,166.48 484.0,166.83 485.0,167.20 486.0,167.57 487.0,167.95 488.0,168.34 489.0,168.73 490.0,169.12 491.0,169.51 492.0,169.91 493.0,170.30 494.0,170.69 495.0,171.07 496.0,171.46 497.0,171.83 498.0,172.21 499.0,172.58 500.0,172.95 501.0,173.32 502.0,173.69 503.0,174.05 504.0,174.42 505.0,174.78 506.0,175.15 507.0,175.51 508.0,175.87 509.0,176.22 510.0,176.58 511.0,176.93 512.0,177.28 513.0,177.62 514.0,177.96 515.0,178.30 516.0,178.65 517.0,178.99 518.0,179.34 519.0,179.69 520.0,180.05 521.0,180.42 522.0,180.79 523.0,181.17 524.0,181.55 525.0,181.93 526.0,182.32 527.0,182.72 528.0,183.12 529.0,183.53 530.0,183.96 531.0,184.41 532.0,184.89 533.0,185.39 534.0,185.92 535.0,186.50 536.0,187.12 537.0,187.78 538.0,188.45 539.0,189.13 540.0,189.81 541.0,190.49 542.0,191.18 543.0,191.88 544.0,192.60 545.0,193.32 546.0,194.06 547.0,194.82 548.0,195.62 549.0,196.46 550.0,197.38 551.0,198.38 552.0,199.47 553.0,200.61 554.0,201.78 555.0,202.95 556.0,204.11 557.0,205.29 558.0,206.49 559.0,207.74 560.0,209.04 561.0,210.37 562.0,211.73 563.0,213.08 564.0,214.44 565.0,215.78 566.0,217.11 567.0,218.41 568.0,219.69 569.0,220.93 570.0,222.10 571.0,223.19 572.0,224.16 573.0,225.03 574.0,225.80 575.0,226.51 576.0,227.18 577.0,227.83 578.0,228.47 579.0,229.08 580.0,229.68 581.0,230.26 582.0,230.81 583.0,231.35 584.0,231.86 585.0,232.32 586.0,232.72 587.0,233.06 588.0,233.33 589.0,233.55 590.0,233.73 591.0,233.89 592.0,234.03 593.0,234.17 594.0,234.30 595.0,234.43 596.0,234.56 597.0,234.71 598.0,234.87 599.0,235.04 600.0,235.22 601.0,235.41 602.0,235.60 603.0,235.80 604.0,235.99 605.0,236.19 606.0,236.38 607.0,236.57 608.0,236.75 609.0,236.92 610.0,237.08 611.0,237.23 612.0,237.38 613.0,237.52 614.0,237.67 615.0,237.82 616.0,237.98 617.0,238.15 618.0,238.33 619.0,238.52 620.0,238.71 621.0,238.91 622.0,239.11 623.0,239.32 624.0,239.53 625.0,239.74 626.0,239.95 627.0,240.17 628.0,240.38 629.0,240.60 630.0,240.82 631.0,241.05 632.0,241.28 633.0,241.52 634.0,241.76 635.0,242.00 636.0,242.25 637.0,242.49 638.0,242.73 639.0,242.98 640.0,243.22 641.0,243.45 642.0,243.69 643.0,243.91 644.0,244.13 645.0,244.35 646.0,244.55 647.0,244.75 648.0,244.94 649.0,245.12 650.0,245.29 651.0,245.46 652.0,245.62 653.0,245.77 654.0,245.93 655.0,246.08 656.0,246.23 657.0,246.38 658.0,246.54 659.0,246.70 660.0,246.87 661.0,247.05 662.0,247.23 663.0,247.42 664.0,247.62 665.0,247.82 666.0,248.02 667.0,248.23 668.0,248.44 669.0,248.65 670.0,248.85 671.0,249.05 672.0,249.25 673.0,249.44 674.0,249.63 675.0,249.81 676.0,249.99 677.0,250.17 678.0,250.35 679.0,250.52 680.0,250.69 681.0,250.86 682.0,251.03 683.0,251.19 684.0,251.35 685.0,251.51 686.0,251.66 687.0,251.81 688.0,251.95 689.0,252.10 690.0,252.23 691.0,252.37 692.0,252.50 693.0,252.64 694.0,252.77 695.0,252.90 696.0,253.03 697.0,253.16 698.0,253.29 699.0,253.42 700.0,253.55 701.0,253.68 702.0,253.81 703.0,253.95 704.0,254.09 705.0,254.24 706.0,254.39 707.0,254.54 708.0,254.69 709.0,254.85 710.0,255.01 711.0,255.17 712.0,255.34 713.0,255.50 714.0,255.67 715.0,255.85 716.0,256.02 717.0,256.20" stroke="#9c9c9c" stroke-width="1.10" fill="none" stroke-linejoin="round" stroke-linecap="butt"/>
</svg>
</body></html>
